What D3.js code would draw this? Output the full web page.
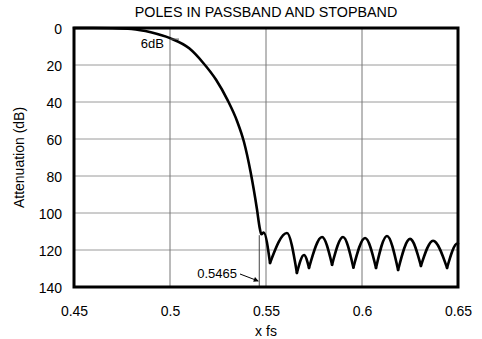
<!DOCTYPE html>
<html>
<head>
<meta charset="utf-8">
<script src="https://cdn.jsdelivr.net/npm/d3@7"></script>
<style>
  html, body { margin: 0; padding: 0; background: #fff; }
  svg { display: block; font-family: "Liberation Sans", Arial, sans-serif; }
</style>
</head>
<body>
<svg id="chart" width="482" height="339"></svg>
<script>
// ---- data ----
const title = "POLES IN PASSBAND AND STOPBAND";
const xTicks = [0.45, 0.5, 0.55, 0.6, 0.65];
const xTickLabels = ["0.45", "0.5", "0.55", "0.6", "0.65"];
const yTicks = [0, 20, 40, 60, 80, 100, 120, 140];
// passband + transition (down to first stopband null)
const passX  = [0.45, 0.46, 0.47, 0.48, 0.49, 0.50, 0.51, 0.517, 0.524, 0.530, 0.535, 0.5385, 0.542, 0.5453, 0.5468, 0.5476, 0.5488, 0.5521];
const passDb = [0,    0,    0.1,  0.5,  2.3,  5.5,  11,   18.5,  28,    39,    50.5,  61.5,   78,    98,     108.5,  111.5,  110.5,  127];
// stopband lobes: alternating null / peak
const lobeX  = [0.5521, 0.5609, 0.5661, 0.5698, 0.5724, 0.5792, 0.5844, 0.5901, 0.5955, 0.6016, 0.6073, 0.6130, 0.6188, 0.6250, 0.6307, 0.6370, 0.6443, 0.6497];
const lobeDb = [127,    110.8,  132.4,  122.7,  129.7,  113,    128,    113,    129.5,  113.5,  129.7,  112.4,  130.8,  114,    128.6,  115,    129.7,  116.5];
const edgeX = 0.6500, edgeDb = 116.6;
const markerX = 0.5465, markerLabel = "0.5465";
const sixDbX = 0.5, sixDbLabel = "6dB";

// ---- layout ----
const svg = d3.select("#chart");
const L = 74, R = 458, T = 28, B = 287;
const x = d3.scaleLinear().domain([0.45, 0.65]).range([L, R]);
const y = d3.scaleLinear().domain([0, 140]).range([T, B]);

// gridlines
svg.append("g").selectAll("line.h").data(yTicks.slice(1, -1)).join("line")
  .attr("x1", L).attr("x2", R).attr("y1", d => y(d)).attr("y2", d => y(d))
  .attr("stroke", "#9a9a9a").attr("stroke-width", 1);
svg.append("g").selectAll("line.v").data(xTicks.slice(1, -1)).join("line")
  .attr("x1", d => x(d)).attr("x2", d => x(d)).attr("y1", T).attr("y2", B)
  .attr("stroke", "#777").attr("stroke-width", 1);

// axes labels
const xAxis = d3.axisBottom(x).tickValues(xTicks).tickFormat((d, i) => xTickLabels[i]).tickSize(0).tickPadding(19);
const gx = svg.append("g").attr("transform", `translate(0,${B})`).call(xAxis);
gx.select(".domain").remove();
gx.selectAll("text").attr("font-size", 14).attr("fill", "#000").attr("font-family", "Liberation Sans, Arial, sans-serif");

const yAxis = d3.axisLeft(y).tickValues(yTicks).tickSize(0).tickPadding(12);
const gy = svg.append("g").attr("transform", `translate(${L},0)`).call(yAxis);
gy.select(".domain").remove();
gy.selectAll("text").attr("font-size", 14).attr("fill", "#000").attr("dy", "0.4em").attr("font-family", "Liberation Sans, Arial, sans-serif");

// titles
svg.append("text").attr("x", (L + R) / 2).attr("y", 17).attr("text-anchor", "middle")
  .attr("font-size", 14.3).text(title);
svg.append("text").attr("x", (L + R) / 2).attr("y", 336).attr("text-anchor", "middle")
  .attr("font-size", 14).text("x fs");
svg.append("text").attr("transform", `translate(24,${(T + B) / 2}) rotate(-90)`).attr("text-anchor", "middle")
  .attr("font-size", 14).text("Attenuation (dB)");

// marker line at 0.5465
svg.append("line").attr("x1", x(markerX)).attr("x2", x(markerX))
  .attr("y1", y(112)).attr("y2", B).attr("stroke", "#444").attr("stroke-width", 1);

// curve
const line = d3.line().x(d => x(d[0])).y(d => y(d[1])).curve(d3.curveMonotoneX);
const pass = passX.map((v, i) => [v, passDb[i]]);
const curveG = svg.append("g").attr("fill", "none").attr("stroke", "#000")
  .attr("stroke-width", 2.6).attr("stroke-linejoin", "round").attr("stroke-linecap", "round");
curveG.append("path").attr("d", line(pass));
for (let i = 0; i + 2 < lobeX.length; i += 2) {
  const seg = [[lobeX[i], lobeDb[i]], [lobeX[i + 1], lobeDb[i + 1]], [lobeX[i + 2], lobeDb[i + 2]]];
  curveG.append("path").attr("d", line(seg));
}
const last = lobeX.length - 1;
curveG.append("path").attr("d", line([[lobeX[last - 1], lobeDb[last - 1]], [lobeX[last], lobeDb[last]], [edgeX, edgeDb]]));

// border
svg.append("rect").attr("x", L).attr("y", T).attr("width", R - L).attr("height", B - T)
  .attr("fill", "none").attr("stroke", "#000").attr("stroke-width", 3);

// 6dB annotation
svg.append("line").attr("x1", x(sixDbX)).attr("x2", x(sixDbX) + 9)
  .attr("y1", y(6)).attr("y2", y(6)).attr("stroke", "#555").attr("stroke-width", 1);
svg.append("text").attr("x", x(sixDbX) - 6).attr("y", 48).attr("text-anchor", "end")
  .attr("font-size", 13).text(sixDbLabel);

// 0.5465 annotation with arrow
svg.append("defs").append("marker").attr("id", "ah").attr("viewBox", "0 0 10 10")
  .attr("refX", 9).attr("refY", 5).attr("markerWidth", 7).attr("markerHeight", 5)
  .attr("orient", "auto").append("path").attr("d", "M0,0 L10,5 L0,10 z").attr("fill", "#000");
svg.append("text").attr("x", 237).attr("y", 278).attr("text-anchor", "end")
  .attr("font-size", 13).text(markerLabel);
svg.append("line").attr("x1", 240).attr("y1", 274).attr("x2", x(markerX) - 1).attr("y2", 281)
  .attr("stroke", "#000").attr("stroke-width", 1).attr("marker-end", "url(#ah)");
</script>
</body>
</html>
